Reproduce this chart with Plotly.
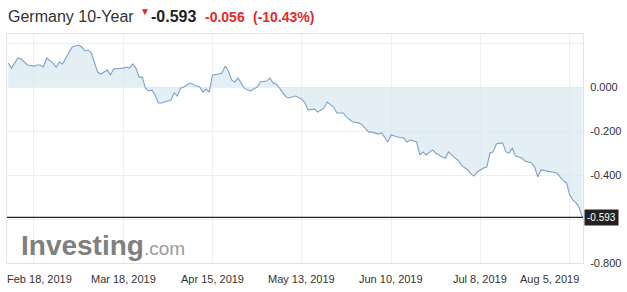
import plotly.graph_objects as go

dates = [
    "2019-02-10", "2019-02-11", "2019-02-13", "2019-02-14", "2019-02-16", "2019-02-18",
    "2019-02-19", "2019-02-20", "2019-02-21", "2019-02-22", "2019-02-24", "2019-02-25",
    "2019-02-26", "2019-02-27", "2019-02-28", "2019-03-01", "2019-03-02", "2019-03-04",
    "2019-03-05", "2019-03-06", "2019-03-07", "2019-03-08", "2019-03-09", "2019-03-10",
    "2019-03-11", "2019-03-12", "2019-03-13", "2019-03-14", "2019-03-15", "2019-03-18",
    "2019-03-19", "2019-03-20", "2019-03-21", "2019-03-22", "2019-03-23", "2019-03-24",
    "2019-03-25", "2019-03-26", "2019-03-27", "2019-03-28", "2019-03-29", "2019-03-30",
    "2019-04-01", "2019-04-02", "2019-04-03", "2019-04-04", "2019-04-05", "2019-04-06",
    "2019-04-07", "2019-04-08", "2019-04-10", "2019-04-11", "2019-04-12", "2019-04-13",
    "2019-04-14", "2019-04-15", "2019-04-17", "2019-04-18", "2019-04-19", "2019-04-20",
    "2019-04-21", "2019-04-22", "2019-04-23", "2019-04-25", "2019-04-26", "2019-04-27",
    "2019-04-29", "2019-04-30", "2019-05-02", "2019-05-03", "2019-05-04", "2019-05-05",
    "2019-05-06", "2019-05-07", "2019-05-08", "2019-05-09", "2019-05-11", "2019-05-13",
    "2019-05-14", "2019-05-15", "2019-05-17", "2019-05-18", "2019-05-20", "2019-05-21",
    "2019-05-23", "2019-05-24", "2019-05-26", "2019-05-27", "2019-05-29", "2019-05-31",
    "2019-06-01", "2019-06-03", "2019-06-04", "2019-06-06", "2019-06-07", "2019-06-09",
    "2019-06-10", "2019-06-12", "2019-06-14", "2019-06-15", "2019-06-16", "2019-06-18",
    "2019-06-19", "2019-06-20", "2019-06-21", "2019-06-23", "2019-06-24", "2019-06-26",
    "2019-06-27", "2019-06-28", "2019-06-30", "2019-07-01", "2019-07-02", "2019-07-04",
    "2019-07-05", "2019-07-06", "2019-07-07", "2019-07-09", "2019-07-10", "2019-07-11",
    "2019-07-12", "2019-07-13", "2019-07-14", "2019-07-15", "2019-07-16", "2019-07-17",
    "2019-07-18", "2019-07-19", "2019-07-21", "2019-07-22", "2019-07-24", "2019-07-25",
    "2019-07-26", "2019-07-27", "2019-07-29", "2019-07-30", "2019-08-01", "2019-08-02",
    "2019-08-03", "2019-08-04", "2019-08-05", "2019-08-06", "2019-08-07", "2019-08-08",
    "2019-08-09",
]

yields = [
    0.109, 0.086, 0.132, 0.127, 0.100, 0.095,
    0.100, 0.100, 0.091, 0.132, 0.109, 0.091,
    0.114, 0.105, 0.132, 0.159, 0.182, 0.191,
    0.182, 0.164, 0.168, 0.155, 0.114, 0.068,
    0.059, 0.068, 0.077, 0.055, 0.082, 0.086,
    0.091, 0.086, 0.105, 0.086, 0.045, 0.045,
    -0.005, -0.018, -0.014, -0.036, -0.073, -0.073,
    -0.064, -0.059, -0.027, -0.041, -0.005, 0.000,
    0.009, 0.018, 0.005, 0.000, -0.023, -0.009,
    -0.023, 0.055, 0.059, 0.064, 0.095, 0.073,
    0.032, 0.023, 0.041, -0.005, -0.014, -0.018,
    0.000, 0.023, 0.027, 0.041, 0.018, 0.014,
    -0.005, -0.027, -0.045, -0.050, -0.041, -0.055,
    -0.073, -0.105, -0.100, -0.114, -0.095, -0.068,
    -0.091, -0.118, -0.118, -0.136, -0.159, -0.164,
    -0.173, -0.205, -0.205, -0.214, -0.209, -0.250,
    -0.218, -0.227, -0.232, -0.250, -0.241, -0.250,
    -0.309, -0.295, -0.309, -0.286, -0.300, -0.318,
    -0.323, -0.295, -0.323, -0.332, -0.355, -0.377,
    -0.395, -0.405, -0.386, -0.368, -0.364, -0.300,
    -0.295, -0.259, -0.255, -0.255, -0.295, -0.300,
    -0.277, -0.314, -0.323, -0.336, -0.345, -0.364,
    -0.409, -0.377, -0.382, -0.386, -0.391, -0.409,
    -0.427, -0.436, -0.491, -0.514, -0.527, -0.550,
    -0.593,
]

x_tick_dates = ["2019-02-18", "2019-03-18", "2019-04-15", "2019-05-13",
                "2019-06-10", "2019-07-08", "2019-08-05"]
x_tick_labels = ["Feb 18, 2019", "Mar 18, 2019", "Apr 15, 2019", "May 13, 2019",
                 "Jun 10, 2019", "Jul 8, 2019", "Aug 5, 2019"]
x_label_shift = [6, 0, 0, 0, 0, 0, -20]

y_tick_vals = [0.2, 0.0, -0.2, -0.4, -0.6, -0.8]
y_tick_text = ["", "0.000", "-0.200", "-0.400", "", "-0.800"]

title_name = "Germany 10-Year"
last_value = -0.593
change_text = "-0.056"
change_pct_text = "(-10.43%)"

FONT = "Liberation Sans, Arial, sans-serif"
LINE = "#7ea2c6"
FILL = "rgba(214,229,240,0.65)"
GRID = "#efefef"

PL, PR, PT, PB = 6, 586, 34, 263


def px_x(px):
    return (px - PL) / (PR - PL)


def px_y(py):
    return (PB - py) / (PB - PT)


fig = go.Figure()
fig.add_trace(go.Scatter(
    x=dates, y=yields, mode="lines",
    line=dict(color=LINE, width=1.1),
    fill="tozeroy", fillcolor=FILL,
    hoverinfo="skip", showlegend=False,
))

fig.add_hline(y=last_value, line=dict(color="#222222", width=1.2))

# x-axis labels (kept inside plot width like the original)
for d, t, s in zip(x_tick_dates, x_tick_labels, x_label_shift):
    fig.add_annotation(
        x=d, y=0, xref="x", yref="paper", text=t, showarrow=False,
        xanchor="center", yanchor="middle", yshift=-16, xshift=s,
        font=dict(family=FONT, size=11, color="#333333"),
    )

# current value label on the right
fig.add_annotation(
    x=1, y=last_value, xref="paper", yref="y", text=f"{last_value:.3f}",
    showarrow=False, xanchor="left", yanchor="middle", xshift=1,
    font=dict(family=FONT, size=10, color="#ffffff"),
    bgcolor="#222222", borderpad=2,
)

# header
header_items = [
    (title_name, 5, 17, 16, "#333333", False),
    ("▼", 138, 11, 10, "#e32b2b", False),
    (f"{last_value:.3f}", 149, 16, 16, "#222222", True),
    (change_text, 203, 17, 14, "#e32b2b", True),
    (change_pct_text, 252, 17, 14, "#e32b2b", True),
]
for txt, xx, yy, sz, col, bold in header_items:
    fig.add_annotation(
        x=px_x(xx), y=px_y(yy), xref="paper", yref="paper",
        text=f"<b>{txt}</b>" if bold else txt, showarrow=False,
        xanchor="left", yanchor="middle",
        font=dict(family=FONT, size=sz, color=col),
    )

# watermark logo
fig.add_annotation(
    x=px_x(18), y=px_y(245), xref="paper", yref="paper",
    text="<b>Investing</b><span style='font-size:19px;fill:#9a9a9a'>.com</span>",
    showarrow=False, xanchor="left", yanchor="middle",
    font=dict(family=FONT, size=28, color="#808080"),
)

fig.update_layout(
    width=627, height=292,
    margin=dict(l=PL, r=627 - PR, t=PT, b=292 - PB),
    paper_bgcolor="#ffffff", plot_bgcolor="#ffffff",
    xaxis=dict(
        type="date", range=["2019-02-09 14:00", "2019-08-09 04:00"],
        tickvals=x_tick_dates, showticklabels=False,
        showgrid=True, gridcolor=GRID, gridwidth=1,
        showline=True, linecolor="#e3e3e3", mirror=True, zeroline=False,
    ),
    yaxis=dict(
        range=[-0.8, 0.241], side="right",
        tickvals=y_tick_vals, ticktext=y_tick_text,
        tickfont=dict(family=FONT, size=11, color="#333333"),
        showgrid=True, gridcolor=GRID, gridwidth=1,
        showline=True, linecolor="#e3e3e3", mirror=True, zeroline=False,
        ticks="", ticklabelstandoff=4,
    ),
    font=dict(family=FONT),
)

fig.write_html("out.html")
